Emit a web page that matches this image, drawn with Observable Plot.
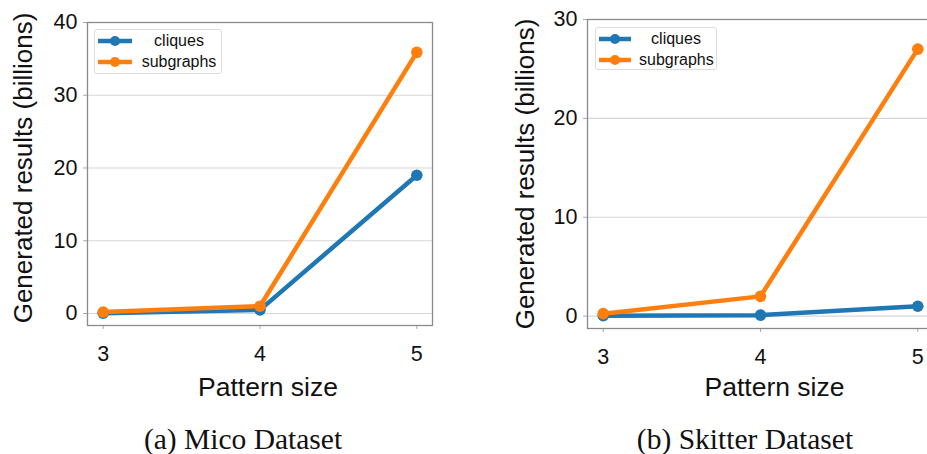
<!DOCTYPE html>
<html>
<head>
<meta charset="utf-8">
<script src="https://cdn.jsdelivr.net/npm/d3@7"></script>
<script src="https://cdn.jsdelivr.net/npm/@observablehq/plot@0.6"></script>
<style>
  html, body { margin: 0; padding: 0; background: #fff; }
  #wrap { position: relative; width: 927px; height: 454px; overflow: hidden; font-family: "Liberation Sans", Arial, sans-serif; }
  .panel { position: absolute; top: 0; }
  .panel svg { max-width: none !important; }
  .caption { position: absolute; font-family: "Liberation Serif", "Times New Roman", serif; font-size: 29.5px; color: #111; white-space: nowrap; transform: translate(-50%, -50%); line-height: 1; }
  .legend { position: absolute; border: 1px solid #ddd; border-radius: 3px; background: #fff; font-size: 16px; color: #111; box-sizing: border-box; }
  .legend .row { display: flex; align-items: center; height: 21px; }
  .legend .lab { flex: 1; text-align: center; }
  .legend svg { flex: none; }
</style>
</head>
<body>
<div id="wrap"></div>
<script>
const patternSizes = [3, 4, 5];
const seriesNames = ["cliques", "subgraphs"];
const seriesColors = ["#1f77b4", "#ff7f0e"];
const micoCliques = [0.05, 0.5, 19.0];
const micoSubgraphs = [0.2, 1.0, 35.9];
const skitterCliques = [0.05, 0.1, 1.0];
const skitterSubgraphs = [0.25, 2.0, 27.0];
const micoTicks = [0, 10, 20, 30, 40];
const skitterTicks = [0, 10, 20, 30];
const xLabel = "Pattern size";
const yLabel = "Generated results (billions)";
const captions = ["(a) Mico Dataset", "(b) Skitter Dataset"];

function rows(a, b) {
  const out = [];
  patternSizes.forEach((p, i) => out.push({size: p, value: a[i], series: seriesNames[0]}));
  patternSizes.forEach((p, i) => out.push({size: p, value: b[i], series: seriesNames[1]}));
  return out;
}

function panel(data, yDomain, yTicks, cfg) {
  return Plot.plot({
    width: cfg.width, height: cfg.height,
    marginLeft: 87, marginRight: cfg.marginRight, marginTop: cfg.marginTop, marginBottom: cfg.marginBottom,
    style: {fontFamily: "'Liberation Sans', Arial, sans-serif", color: "#111", background: "transparent", overflow: "visible", maxWidth: "none"},
    x: {domain: [2.9, 5.1]},
    y: {domain: yDomain},
    color: {domain: seriesNames, range: seriesColors},
    marks: [
      Plot.gridY(yTicks, {stroke: "#d6d6d6", strokeOpacity: 1, strokeWidth: 1.2}),
      Plot.axisX(patternSizes, {tickSize: 4, stroke: "#aaa", fill: "#111", tickPadding: 16, fontSize: 21.5, tickFormat: d => String(d), label: null}),
      Plot.axisY(yTicks, {tickSize: 4, stroke: "#aaa", fill: "#111", tickPadding: 6, fontSize: 21.5, tickFormat: d => String(d), label: null}),
      Plot.line(data, {x: "size", y: "value", stroke: "series", strokeWidth: 4.5, z: "series"}),
      Plot.dot(data, {x: "size", y: "value", fill: "series", r: 5.8}),
      Plot.frame({stroke: "#8a8a8a", strokeWidth: 1.3}),
      Plot.text([xLabel], {text: d => d, frameAnchor: "bottom", dy: cfg.xLabelDy, dx: cfg.xLabelDx, fontSize: 26.5, fill: "#111"}),
      Plot.text([yLabel], {text: d => d, frameAnchor: "left", textAnchor: "middle", rotate: -90, dx: cfg.yLabelDx, dy: cfg.yLabelDy, fontSize: 26, fill: "#111"})
    ]
  });
}

const wrap = document.getElementById("wrap");

const left = panel(rows(micoCliques, micoSubgraphs), [-1.65, 40], micoTicks,
  {width: 450, height: 400, marginRight: 18, marginTop: 22, marginBottom: 75, xLabelDx: 8, xLabelDy: 70, yLabelDx: -64, yLabelDy: -6});
const ld = document.createElement("div"); ld.className = "panel"; ld.style.left = "0px"; ld.style.width = "450px"; ld.appendChild(left); wrap.appendChild(ld);

const right = panel(rows(skitterCliques, skitterSubgraphs), [-1.25, 30], skitterTicks,
  {width: 451, height: 400, marginRight: 18, marginTop: 19, marginBottom: 72, xLabelDx: 14, xLabelDy: 67, yLabelDx: -62, yLabelDy: 0});
const rd = document.createElement("div"); rd.className = "panel"; rd.style.left = "500px"; rd.style.width = "451px"; rd.appendChild(right); wrap.appendChild(rd);

function legend(x, y, w, h, sw) {
  const div = document.createElement("div");
  div.className = "legend";
  Object.assign(div.style, {left: x + "px", top: y + "px", width: w + "px", height: h + "px", padding: "0 3px 0 3px"});
  seriesNames.forEach((s, i) => {
    const row = document.createElement("div"); row.className = "row";
    row.innerHTML = `<svg width="${sw}" height="12"><line x1="0" x2="${sw}" y1="6" y2="6" stroke="${seriesColors[i]}" stroke-width="4.5"/><circle cx="${sw / 2}" cy="6" r="5" fill="${seriesColors[i]}"/></svg><span class="lab" style="padding-left:8px">${s}</span>`;
    div.appendChild(row);
  });
  wrap.appendChild(div);
}
legend(94, 29, 128, 45, 34);
legend(595, 27, 122, 43, 32);

[[captions[0], 243], [captions[1], 745]].forEach(([t, cx]) => {
  const c = document.createElement("div"); c.className = "caption"; c.textContent = t;
  c.style.left = cx + "px"; c.style.top = "440px"; wrap.appendChild(c);
});
</script>
</body>
</html>
